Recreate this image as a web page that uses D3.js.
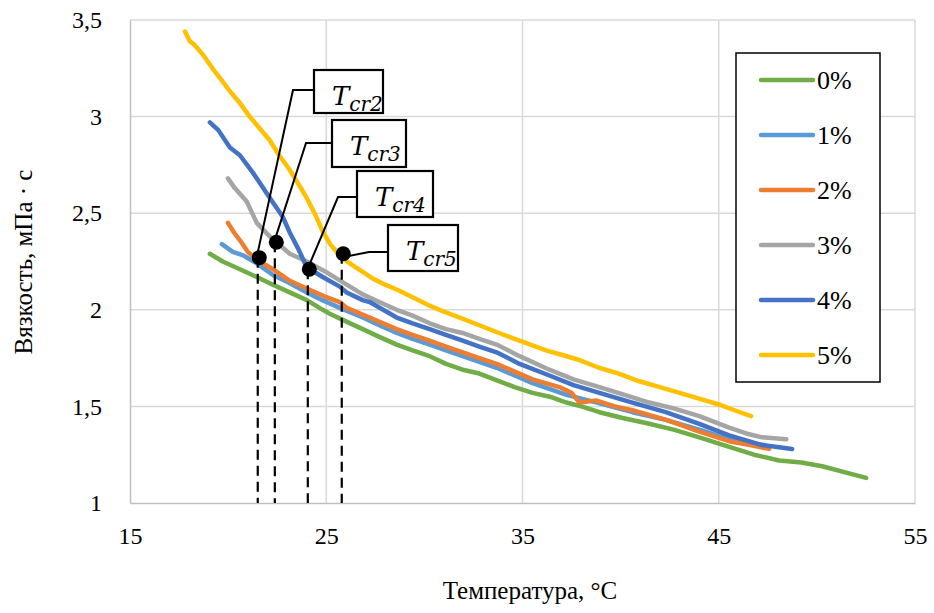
<!DOCTYPE html>
<html>
<head>
<meta charset="utf-8">
<script src="https://cdn.jsdelivr.net/npm/d3@7"></script>
<style>
body{margin:0;background:#fff;}
</style>
</head>
<body>
<svg id="canvas"></svg>
<script>
// температура (°C), вязкость (мПа·с)
let s0=[[19.07,2.29],[19.73,2.25],[20.60,2.21],[21.46,2.17],[22.28,2.13],[23.14,2.09],[24.01,2.05],[24.82,2.00],[25.18,1.98],[26.00,1.94],[26.86,1.90],[27.70,1.86],[28.59,1.82],[29.40,1.79],[30.27,1.76],[31.10,1.72],[31.95,1.69],[32.80,1.67],[33.83,1.63],[34.60,1.60],[35.51,1.57],[36.40,1.55],[37.24,1.52],[38.00,1.50],[38.92,1.47],[40.10,1.44],[41.46,1.41],[42.70,1.38],[44.01,1.34],[45.53,1.29],[46.80,1.25],[48.08,1.22],[49.20,1.21],[50.27,1.19],[51.40,1.16],[52.51,1.13]];
let s1=[[19.68,2.34],[20.24,2.30],[20.80,2.28],[21.46,2.24],[22.28,2.18],[23.10,2.14],[24.01,2.09],[24.80,2.05],[25.69,2.01],[26.86,1.96],[27.70,1.92],[28.59,1.88],[29.40,1.85],[30.27,1.82],[31.10,1.79],[31.95,1.76],[32.80,1.73],[33.68,1.70],[34.60,1.66],[35.51,1.62],[36.40,1.59],[37.24,1.56],[38.41,1.53],[39.50,1.50],[40.60,1.47],[42.30,1.43],[44.01,1.38],[45.53,1.33],[46.50,1.31],[47.32,1.30]];
let s2=[[19.99,2.45],[20.30,2.40],[20.60,2.36],[21.00,2.30],[21.46,2.26],[22.28,2.21],[23.14,2.15],[24.01,2.11],[24.90,2.07],[25.69,2.04],[26.04,2.01],[27.21,1.96],[28.59,1.90],[29.40,1.87],[30.27,1.84],[31.10,1.81],[31.95,1.78],[32.80,1.75],[33.68,1.72],[34.60,1.68],[35.51,1.64],[36.88,1.60],[37.50,1.57],[37.90,1.52],[38.77,1.53],[39.70,1.50],[40.60,1.48],[42.33,1.43],[44.01,1.37],[45.53,1.32],[46.60,1.30],[47.57,1.28]];
let s3=[[19.99,2.68],[20.34,2.63],[20.95,2.56],[21.46,2.45],[22.12,2.38],[23.14,2.29],[24.01,2.25],[24.92,2.20],[26.04,2.13],[26.86,2.08],[27.70,2.04],[28.59,2.00],[29.40,1.97],[30.27,1.93],[31.10,1.90],[31.95,1.88],[32.80,1.85],[33.68,1.82],[34.85,1.76],[36.37,1.69],[37.60,1.64],[38.92,1.60],[40.20,1.56],[41.46,1.52],[42.70,1.49],[44.01,1.45],[45.53,1.39],[46.40,1.36],[47.21,1.34],[48.44,1.33]];
let s4=[[19.07,2.97],[19.50,2.93],[20.09,2.84],[20.60,2.80],[21.26,2.71],[22.12,2.58],[22.79,2.48],[23.14,2.40],[23.60,2.31],[24.01,2.22],[24.82,2.17],[25.69,2.12],[26.04,2.09],[26.86,2.05],[27.21,2.04],[28.59,1.96],[29.40,1.93],[30.27,1.90],[31.10,1.87],[31.95,1.84],[32.80,1.81],[33.68,1.78],[34.85,1.72],[36.37,1.66],[37.60,1.61],[38.92,1.57],[40.60,1.52],[42.30,1.47],[44.01,1.41],[45.53,1.35],[47.21,1.30],[48.74,1.28]];
let s5=[[17.80,3.44],[18.05,3.39],[18.30,3.37],[18.72,3.32],[19.20,3.25],[19.58,3.20],[20.10,3.13],[20.60,3.07],[21.10,3.00],[21.60,2.94],[22.10,2.88],[22.60,2.80],[23.10,2.73],[23.65,2.64],[24.00,2.58],[24.50,2.48],[24.80,2.41],[25.20,2.34],[25.70,2.28],[26.20,2.24],[26.80,2.20],[27.40,2.16],[28.00,2.13],[28.70,2.10],[29.50,2.06],[30.30,2.02],[31.00,1.99],[31.80,1.96],[32.80,1.92],[33.80,1.88],[34.60,1.85],[35.40,1.82],[36.20,1.79],[36.90,1.77],[37.90,1.74],[38.90,1.70],[39.90,1.67],[40.95,1.63],[42.00,1.60],[43.00,1.57],[44.00,1.54],[45.00,1.51],[45.80,1.48],[46.65,1.45]];

let seriesNames=['0%','1%','2%','3%','4%','5%'];
let seriesColors=['#70ad47','#5b9bd5','#ed7d31','#a5a5a5','#4472c4','#ffc000'];

// критические температуры
let tcrNames=['cr2','cr3','cr4','cr5'];
let tcrT=[21.51,22.38,24.06,25.79];
let tcrV=[2.27,2.35,2.21,2.29];

let xTicks=[15,25,35,45,55];
let yTicks=[1,1.5,2,2.5,3,3.5];

let width=934;
let height=613;
let plotLeft=130,plotRight=915,plotTop=20,plotBottom=503;
let serif='"Liberation Serif","Times New Roman",serif';

let xscale,yscale;

let canvas=d3.select('#canvas')
canvas.attr('width',width)
canvas.attr('height',height)

function generateScales(){
    xscale=d3.scaleLinear().domain([15,55]).range([plotLeft,plotRight]);
    yscale=d3.scaleLinear().domain([1,3.5]).range([plotBottom,plotTop]);
}

function drawGrid(){
    canvas.append('g').selectAll('line')
        .data(yTicks.slice(1))
        .enter()
        .append('line')
        .attr('x1',plotLeft).attr('x2',plotRight)
        .attr('y1',(d)=>yscale(d)).attr('y2',(d)=>yscale(d))
        .attr('stroke','#d9d9d9').attr('stroke-width',1.5);
    canvas.append('g').selectAll('line')
        .data(xTicks.slice(1))
        .enter()
        .append('line')
        .attr('y1',plotTop).attr('y2',plotBottom)
        .attr('x1',(d)=>xscale(d)).attr('x2',(d)=>xscale(d))
        .attr('stroke','#d9d9d9').attr('stroke-width',1.5);
}

function drawAxis(){
    let xAxis=d3.axisBottom(xscale).tickValues(xTicks).tickSize(0).tickPadding(24);
    let gx=canvas.append('g')
        .attr('transform','translate(0,'+plotBottom+')')
        .call(xAxis);
    gx.select('.domain').attr('stroke','#bfbfbf').attr('stroke-width',1.5);
    gx.selectAll('text').style('font-family',serif).style('font-size','24px').attr('fill','#000');

    let yAxis=d3.axisLeft(yscale).tickValues(yTicks).tickSize(0).tickPadding(28)
        .tickFormat((d)=>String(d).replace('.',','));
    let gy=canvas.append('g')
        .attr('transform','translate('+plotLeft+',0)')
        .call(yAxis);
    gy.select('.domain').attr('stroke','#bfbfbf').attr('stroke-width',1.5);
    gy.selectAll('text').style('font-family',serif).style('font-size','24px').attr('fill','#000');

    canvas.append('text')
        .attr('x',530).attr('y',599)
        .attr('text-anchor','middle')
        .style('font-family',serif)
        .style('font-size','25px')
        .text('Температура, °C');
    canvas.append('text')
        .attr('transform','translate(32,262) rotate(-90)')
        .attr('text-anchor','middle')
        .style('font-family',serif)
        .style('font-size','25px')
        .text('Вязкость, мПа · с');
}

function drawLines(){
    let line=d3.line().x((d)=>xscale(d[0])).y((d)=>yscale(d[1]));
    let all=[s0,s1,s2,s3,s4,s5];
    canvas.append('g').selectAll('path')
        .data(all)
        .enter()
        .append('path')
        .attr('d',line)
        .attr('fill','none')
        .attr('stroke',(d,i)=>seriesColors[i])
        .attr('stroke-width',4.5)
        .attr('stroke-linecap','round')
        .attr('stroke-linejoin','round');
}

function drawAnnotations(){
    // рамки подписей и изломы выносок (пиксели)
    let boxes=[
        {x:314,y:70,w:69,h:43,ex:293,ey:90},
        {x:332,y:120,w:74,h:47,ex:306,ey:143},
        {x:357,y:171,w:76,h:46,ex:338,ey:197},
        {x:388,y:225,w:70,h:46,ex:369,ey:252}
    ];
    let g=canvas.append('g');
    tcrT.forEach((t,i)=>{
        let px=xscale(t),py=yscale(tcrV[i]);
        g.append('line')
            .attr('x1',px).attr('x2',px)
            .attr('y1',py).attr('y2',plotBottom)
            .attr('stroke','#000').attr('stroke-width',2.2)
            .attr('stroke-dasharray','10,6');
    });
    tcrT.forEach((t,i)=>{
        let px=xscale(t),py=yscale(tcrV[i]);
        g.append('circle')
            .attr('cx',px+1.5).attr('cy',py)
            .attr('r',7.5)
            .attr('fill','#000');
        let b=boxes[i];
        g.append('polyline')
            .attr('points',[[px-2,py+4],[b.ex,b.ey],[b.x,b.ey]].join(' '))
            .attr('fill','none')
            .attr('stroke','#000').attr('stroke-width',2);
        g.append('rect')
            .attr('x',b.x).attr('y',b.y)
            .attr('width',b.w).attr('height',b.h)
            .attr('fill','#fff')
            .attr('stroke','#000').attr('stroke-width',2.2);
        let txt=g.append('text')
            .attr('x',b.x+18).attr('y',b.y+35)
            .style('font-family','"DejaVu Serif","Liberation Serif",serif')
            .style('font-style','italic');
        txt.append('tspan').style('font-size','26px').text('T');
        txt.append('tspan').attr('dy',6).style('font-size','20px').text(tcrNames[i]);
    });
}

function drawLegend(){
    let g=canvas.append('g');
    g.append('rect')
        .attr('x',736).attr('y',53)
        .attr('width',144).attr('height',329)
        .attr('fill','#fff')
        .attr('stroke','#000').attr('stroke-width',1.5);
    let rows=g.selectAll('g.row')
        .data(seriesNames)
        .enter()
        .append('g')
        .attr('class','row')
        .attr('transform',(d,i)=>'translate(0,'+(80+i*55)+')');
    rows.append('line')
        .attr('x1',761).attr('x2',813)
        .attr('stroke',(d,i)=>seriesColors[i])
        .attr('stroke-width',4.5)
        .attr('stroke-linecap','round');
    rows.append('text')
        .attr('x',817).attr('y',9)
        .style('font-family',serif)
        .style('font-size','26px')
        .text((d)=>d);
}

generateScales();
drawGrid();
drawAxis();
drawLines();
drawAnnotations();
drawLegend();
</script>
</body>
</html>
